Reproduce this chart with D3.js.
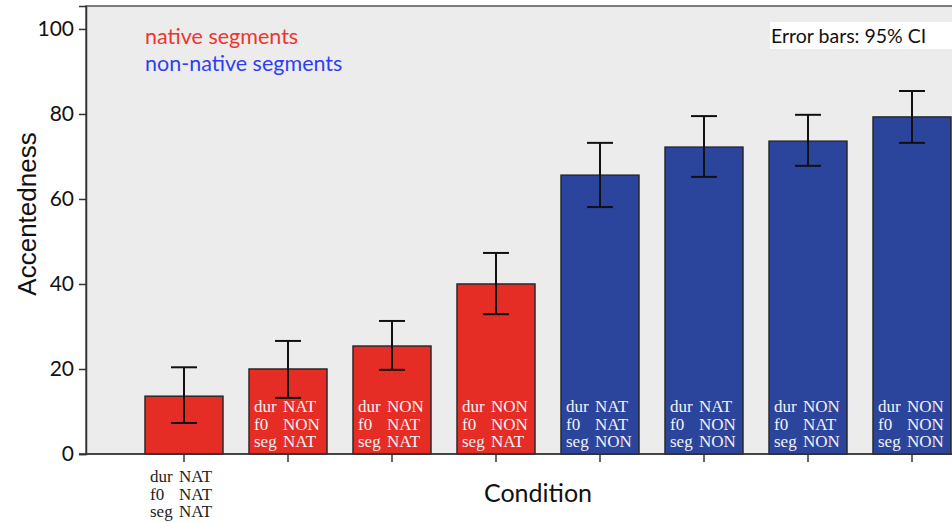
<!DOCTYPE html>
<html>
<head>
<meta charset="utf-8">
<script src="https://cdn.jsdelivr.net/npm/d3@7"></script>
<style>
  body { margin: 0; background: #fff; }
  svg { display: block; }
</style>
</head>
<body>
<svg id="chart" width="952" height="523"></svg>
<script>
// datos
const conditions = [
    ["NAT", "NAT", "NAT"],
    ["NAT", "NON", "NAT"],
    ["NON", "NAT", "NAT"],
    ["NON", "NON", "NAT"],
    ["NAT", "NAT", "NON"],
    ["NAT", "NON", "NON"],
    ["NON", "NAT", "NON"],
    ["NON", "NON", "NON"]
];
const rowNames = ["dur", "f0", "seg"];
const means = [13.6, 20.0, 25.4, 40.0, 65.6, 72.2, 73.6, 79.3];
const ciLow = [7.3, 13.2, 19.8, 32.9, 58.1, 65.2, 67.8, 73.2];
const ciHigh = [20.4, 26.6, 31.3, 47.3, 73.2, 79.5, 79.8, 85.4];
const yTicks = [0, 20, 40, 60, 80, 100];

const rojo = "#e52d26", azul = "#2c459c";

function creaGrafica() {
    let svg = d3.select("#chart");
    const left = 86, top = 6, bottom = 454, right = 970;

    const ids = conditions.map((d, i) => i);
    const x = d3.scaleBand()
        .domain(ids)
        .range([132, 964])
        .paddingInner(0.25)
        .paddingOuter(0.125);
    const y = d3.scaleLinear()
        .domain([0, 105.4])
        .range([bottom, top]);

    // fondo del area de grafica
    svg.append("rect")
        .attr("x", left).attr("y", top)
        .attr("width", right - left).attr("height", bottom - top)
        .attr("fill", "#ececec")
        .attr("stroke", "#555").attr("stroke-width", 1.5);

    // cuadro "Error bars"
    svg.append("rect")
        .attr("x", 770).attr("y", 22).attr("width", 190).attr("height", 27)
        .attr("fill", "#fff");
    svg.append("text")
        .attr("x", 771).attr("y", 43)
        .attr("font-family", "Lato, sans-serif")
        .attr("font-size", 19.5)
        .attr("fill", "#111")
        .text("Error bars: 95% CI");

    // leyenda
    svg.append("text")
        .attr("x", 145).attr("y", 44)
        .attr("font-family", "Lato, sans-serif")
        .attr("font-size", 21.5)
        .attr("fill", "#ee3530")
        .text("native segments");
    svg.append("text")
        .attr("x", 145).attr("y", 71)
        .attr("font-family", "Lato, sans-serif")
        .attr("font-size", 21.5)
        .attr("fill", "#2f3ff0")
        .text("non-native segments");

    // barras
    const g = svg.append("g");
    g.selectAll(".bar")
        .data(means)
        .enter().append("rect")
        .attr("class", "bar")
        .attr("x", (d, i) => x(i))
        .attr("y", d => y(d))
        .attr("width", x.bandwidth())
        .attr("height", d => y(0) - y(d))
        .attr("fill", (d, i) => conditions[i][2] === "NAT" ? rojo : azul)
        .attr("stroke", "#2a2a2a")
        .attr("stroke-width", 1.5);

    // etiquetas dentro de las barras (la primera va debajo del eje)
    conditions.forEach((c, i) => {
        const inside = i > 0;
        const base = inside ? 412 : 482;
        const lab = svg.append("text")
            .attr("font-family", "'Liberation Serif', 'DejaVu Serif', serif")
            .attr("font-size", 17)
            .attr("fill", inside ? "#f2f2f2" : "#222");
        rowNames.forEach((r, k) => {
            lab.append("tspan")
                .attr("x", x(i) + 5).attr("y", base + k * 17.5)
                .text(r);
            lab.append("tspan")
                .attr("x", x(i) + 34).attr("y", base + k * 17.5)
                .text(c[k]);
        });
    });

    // barras de error
    const cap = 13;
    const eb = svg.append("g")
        .attr("stroke", "#111")
        .attr("stroke-width", 2);
    means.forEach((d, i) => {
        const cx = x(i) + x.bandwidth() / 2;
        eb.append("line")
            .attr("x1", cx).attr("x2", cx)
            .attr("y1", y(ciLow[i])).attr("y2", y(ciHigh[i]));
        eb.append("line")
            .attr("x1", cx - cap).attr("x2", cx + cap)
            .attr("y1", y(ciHigh[i])).attr("y2", y(ciHigh[i]));
        eb.append("line")
            .attr("x1", cx - cap).attr("x2", cx + cap)
            .attr("y1", y(ciLow[i])).attr("y2", y(ciLow[i]));
    });

    // eje Y
    const yAxis = svg.append("g")
        .attr("transform", "translate(" + left + ",0)")
        .call(d3.axisLeft(y).tickValues(yTicks).tickSize(7).tickPadding(5));
    yAxis.select(".domain").attr("stroke", "#333").attr("stroke-width", 1.5);
    yAxis.selectAll(".tick line").attr("stroke", "#333").attr("stroke-width", 1.5);
    yAxis.selectAll("text")
        .attr("font-family", "Lato, sans-serif")
        .attr("font-size", 21)
        .attr("fill", "#111");

    // eje X
    const xAxis = svg.append("g")
        .attr("transform", "translate(0," + bottom + ")")
        .call(d3.axisBottom(x).tickSize(8).tickFormat(""));
    xAxis.select(".domain").remove();
    xAxis.selectAll(".tick line").attr("stroke", "#333").attr("stroke-width", 1.5);
    svg.append("line")
        .attr("x1", left - 7).attr("x2", right)
        .attr("y1", bottom).attr("y2", bottom)
        .attr("stroke", "#333").attr("stroke-width", 1.5);

    // titulos de ejes
    svg.append("text")
        .attr("transform", "translate(36,214) rotate(-90)")
        .style("text-anchor", "middle")
        .attr("font-family", "'Liberation Sans', Arial, sans-serif")
        .attr("font-size", 26)
        .attr("fill", "#111")
        .text("Accentedness");
    svg.append("text")
        .attr("x", 538).attr("y", 502)
        .style("text-anchor", "middle")
        .attr("font-family", "Lato, sans-serif")
        .attr("font-size", 25)
        .attr("fill", "#111")
        .text("Condition");
}

creaGrafica();
</script>
</body>
</html>
